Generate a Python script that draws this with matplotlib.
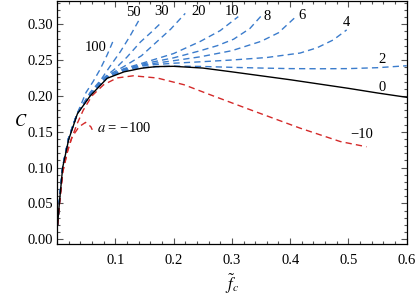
import numpy as np
import matplotlib
matplotlib.use("Agg")
import matplotlib.pyplot as plt
from matplotlib.ticker import MultipleLocator, FixedLocator

plt.rcParams['font.family'] = ['Liberation Serif', 'DejaVu Serif']
plt.rcParams['mathtext.fontset'] = 'stix'

# --- values ---
# a = 0 (solid black)
f_a0 = [0.001, 0.004, 0.0097, 0.02, 0.035, 0.057, 0.086, 0.115, 0.145, 0.17, 0.2,
        0.25, 0.3, 0.35, 0.4, 0.45, 0.5, 0.55, 0.6]
c_a0 = [0.02, 0.05, 0.10, 0.139, 0.175, 0.20, 0.2245, 0.2335, 0.2385, 0.2408, 0.2412,
        0.2388, 0.2335, 0.228, 0.2225, 0.2165, 0.2105, 0.204, 0.198]

# common start shared by the positive-a curves
f_start = [0.001, 0.004, 0.01, 0.02, 0.035]
c_start = [0.02, 0.051, 0.102, 0.141, 0.176]

# positive a (blue dashed)
f_a2 = f_start + [0.057, 0.086, 0.115, 0.15, 0.2, 0.25, 0.3, 0.35, 0.4, 0.45, 0.5, 0.55, 0.6]
c_a2 = c_start + [0.201, 0.2255, 0.235, 0.2400, 0.2415, 0.241, 0.2398, 0.2388, 0.238,
                  0.2378, 0.238, 0.2393, 0.242]
f_a4 = f_start + [0.057, 0.086, 0.115, 0.15, 0.2, 0.246, 0.3, 0.36, 0.417, 0.446, 0.474, 0.497]
c_a4 = c_start + [0.201, 0.226, 0.2355, 0.2425, 0.2455, 0.2475, 0.25, 0.2535, 0.2597,
                  0.267, 0.278, 0.292]
f_a6 = f_start + [0.057, 0.086, 0.115, 0.15, 0.2, 0.246, 0.3, 0.35, 0.38, 0.412]
c_a6 = c_start + [0.201, 0.2263, 0.236, 0.2435, 0.249, 0.2545, 0.263, 0.276, 0.288, 0.312]
f_a8 = f_start + [0.057, 0.086, 0.115, 0.15, 0.2, 0.246, 0.275, 0.303, 0.331, 0.352]
c_a8 = c_start + [0.201, 0.2266, 0.237, 0.245, 0.253, 0.263, 0.27, 0.279, 0.294, 0.313]
f_a10 = f_start + [0.057, 0.086, 0.115, 0.15, 0.2, 0.246, 0.28, 0.311]
c_a10 = c_start + [0.201, 0.227, 0.238, 0.2465, 0.259, 0.276, 0.291, 0.3105]
f_a20 = f_start + [0.057, 0.086, 0.115, 0.145, 0.172, 0.195, 0.22]
c_a20 = c_start + [0.202, 0.228, 0.241, 0.256, 0.276, 0.293, 0.315]
f_a30 = f_start + [0.057, 0.08, 0.1, 0.12, 0.143, 0.162, 0.18]
c_a30 = c_start + [0.203, 0.225, 0.238, 0.254, 0.275, 0.289, 0.303]
f_a50 = f_start + [0.057, 0.075, 0.09, 0.109, 0.125, 0.143]
c_a50 = c_start + [0.205, 0.222, 0.240, 0.262, 0.283, 0.309]
f_a100 = f_start + [0.05, 0.062, 0.074, 0.086, 0.097]
c_a100 = c_start + [0.205, 0.22, 0.237, 0.257, 0.278]

# negative a (red dashed)
f_am10 = [0.001, 0.004, 0.01, 0.02, 0.035, 0.045, 0.06, 0.08, 0.103, 0.131, 0.172,
          0.218, 0.263, 0.331, 0.417, 0.486, 0.531]
c_am10 = [0.02, 0.048, 0.095, 0.13, 0.162, 0.18, 0.2, 0.2155, 0.225, 0.228, 0.2249,
          0.2155, 0.2015, 0.1808, 0.155, 0.1363, 0.129]
f_am100 = [0.001, 0.004, 0.01, 0.018, 0.026, 0.038, 0.049, 0.058, 0.0605]
c_am100 = [0.02, 0.047, 0.094, 0.122, 0.143, 0.157, 0.163, 0.157, 0.1527]

pos_curves = [(f_a2, c_a2), (f_a4, c_a4), (f_a6, c_a6), (f_a8, c_a8), (f_a10, c_a10),
              (f_a20, c_a20), (f_a30, c_a30), (f_a50, c_a50), (f_a100, c_a100)]
neg_curves = [(f_am10, c_am10), (f_am100, c_am100)]

# curve labels: text, f, C
labels = [('100', 0.0655, 0.267), ('50', 0.131, 0.3156), ('30', 0.18, 0.318),
          ('20', 0.243, 0.318), ('10', 0.301, 0.318), ('8', 0.36, 0.311),
          ('6', 0.42, 0.312), ('4', 0.497, 0.3017), ('2', 0.557, 0.2505),
          ('0', 0.557, 0.212), ('\u221210', 0.523, 0.1457)]

blue = '#3b7ccc'
red = '#d42a2a'

fig = plt.figure(figsize=(4.15, 2.96), dpi=100)
ax = fig.add_axes([57 / 415, 1 - 244 / 296, (406.7 - 57) / 415, 243.5 / 296])

for f, c in pos_curves:
    ax.plot(f, c, color=blue, lw=1.0, dashes=(4.5, 3))
for f, c in neg_curves:
    ax.plot(f, c, color=red, lw=1.0, dashes=(4.5, 3))
ax.plot(f_a0, c_a0, color='black', lw=1.0)

for txt, x, y in labels:
    ax.text(x, y, txt, fontsize=10.5, ha='center', va='center')
ax.text(0.069, 0.1555, r'$a$' + ' = \u2212100', fontsize=10.5, ha='left', va='center')

ax.set_xlim(0, 0.6)
ax.set_ylim(-0.0066, 0.333)
ax.xaxis.set_major_locator(FixedLocator([0.1, 0.2, 0.3, 0.4, 0.5, 0.6]))
ax.xaxis.set_minor_locator(MultipleLocator(0.02))
ax.yaxis.set_major_locator(MultipleLocator(0.05))
ax.yaxis.set_minor_locator(MultipleLocator(0.01))
ax.set_xticklabels(['0.1', '0.2', '0.3', '0.4', '0.5', '0.6'])
ax.yaxis.set_major_formatter(matplotlib.ticker.FormatStrFormatter('%.2f'))
ax.tick_params(which='both', direction='in', top=True, right=True, labelsize=10.5,
               color='#555555', width=0.8)
ax.tick_params(which='major', length=4.5)
ax.tick_params(which='minor', length=2.5)
ax.tick_params(axis='x', which='major', pad=7)
ax.tick_params(axis='y', which='major', pad=3)
for s in ax.spines.values():
    s.set_linewidth(0.9)

ax.set_xlabel(r'$\tilde{f}_c$', fontsize=12, labelpad=4)
ax.set_ylabel(r'$C$', fontsize=12, rotation=0, va='center', ha='center')
ax.yaxis.set_label_coords(-0.105, 0.5)

fig.savefig('out.png', dpi=100)
